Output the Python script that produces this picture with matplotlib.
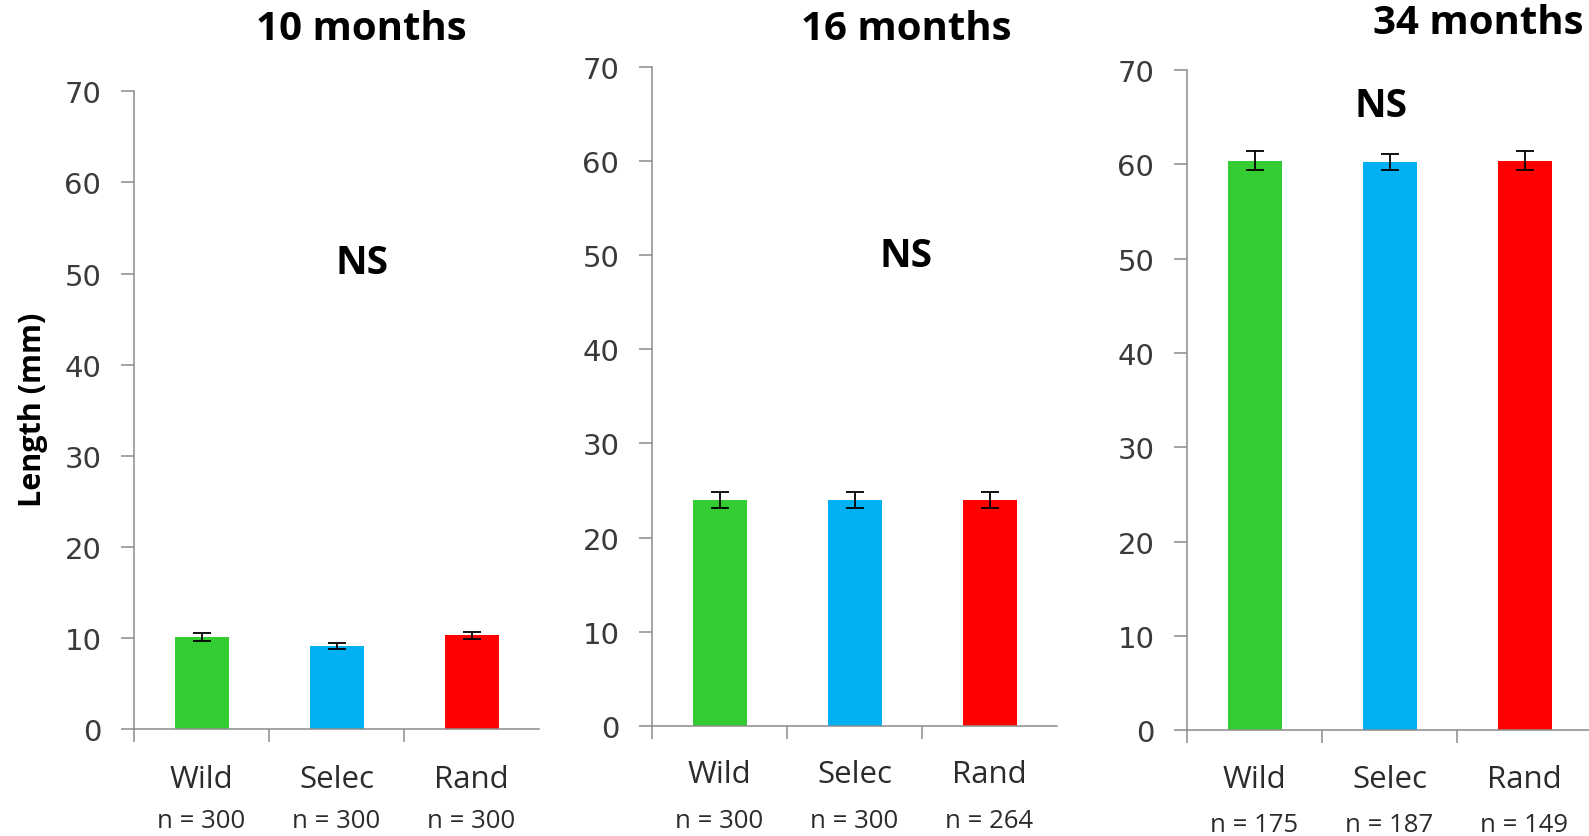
import matplotlib
matplotlib.use("Agg")
import matplotlib.pyplot as plt
from matplotlib import transforms

# Mean shell length (mm) per group at three ages, with error half-widths
groups = ["Wild", "Selec", "Rand"]
colors = ["#33CC33", "#00B0F0", "#FF0000"]

titles = ["10 months", "16 months", "34 months"]

len_10 = [10.1, 9.1, 10.3]
err_10 = [0.4, 0.35, 0.4]
n_10 = [300, 300, 300]

len_16 = [24.0, 24.0, 24.0]
err_16 = [0.9, 0.9, 0.9]
n_16 = [300, 300, 264]

len_34 = [60.4, 60.2, 60.4]
err_34 = [1.0, 0.85, 1.0]
n_34 = [175, 187, 149]

yticks = [0, 10, 20, 30, 40, 50, 60, 70]
sig_label = "NS"

W, H = 1589, 837
fig = plt.figure(figsize=(W / 100, H / 100), dpi=100)
fig.patch.set_facecolor("white")

AXIS_GRAY = "#8c8c8c"
TEXT_DARK = "#2b2b2b"

# panel geometry in pixels: left, y of 0, y of 70, category-label y, n-label y,
# title x/y, NS position in data units
panels = [
    dict(vals=len_10, errs=err_10, ns=n_10, title=titles[0],
         left=134, y0=730, y70=92.4, cat_y=780, n_y=822,
         tx=361, ty=29, sx=1.19, sy=51.2),
    dict(vals=len_16, errs=err_16, ns=n_16, title=titles[1],
         left=652, y0=727, y70=67.8, cat_y=775, n_y=822,
         tx=906, ty=29, sx=1.38, sy=50.0),
    dict(vals=len_34, errs=err_34, ns=n_34, title=titles[2],
         left=1187, y0=731.4, y70=71, cat_y=780, n_y=826,
         tx=1478, ty=24, sx=0.94, sy=66.2),
]

cat_w = 135
for p in panels:
    ax = fig.add_axes([p["left"] / W, (H - p["y0"]) / H,
                       3 * cat_w / W, (p["y0"] - p["y70"]) / H])
    x = list(range(len(groups)))
    ax.bar(x, p["vals"], width=0.4, color=colors, edgecolor="none", zorder=2)
    ax.errorbar(x, p["vals"], yerr=p["errs"], fmt="none", ecolor="black",
                elinewidth=1.3, capsize=6.5, capthick=1.3, zorder=3)
    ax.set_xlim(-0.5, 2.5)
    ax.set_ylim(0, 70)
    ax.set_yticks(yticks)
    ax.set_yticklabels([str(v) for v in yticks], fontsize=21,
                       family="DejaVu Sans", color="#3a3a3a")
    ax.set_xticks([-0.5, 0.5, 1.5])
    ax.set_xticklabels([])
    ax.tick_params(axis="y", direction="out", length=9.5, width=1.1,
                   color=AXIS_GRAY, pad=14)
    ax.tick_params(axis="x", direction="out", length=9, width=1.1,
                   color=AXIS_GRAY)
    for side in ("top", "right"):
        ax.spines[side].set_visible(False)
    for side in ("left", "bottom"):
        ax.spines[side].set_color(AXIS_GRAY)
        ax.spines[side].set_linewidth(1.1)
    ax.set_facecolor("none")

    trans = transforms.blended_transform_factory(ax.transData, fig.transFigure)
    for i, (g, n) in enumerate(zip(groups, p["ns"])):
        fig.text(i, 1 - p["cat_y"] / H, g, transform=trans, ha="center",
                 va="center", fontsize=22.5, family="Open Sans",
                 color=TEXT_DARK)
        fig.text(i, 1 - p["n_y"] / H, f"n = {n}", transform=trans,
                 ha="center", va="center", fontsize=18.5, family="Open Sans",
                 color=TEXT_DARK)

    fig.text(p["tx"] / W, 1 - p["ty"] / H, p["title"], ha="center",
             va="center", fontsize=29, fontweight="bold", family="Open Sans",
             color="black")
    ax.text(p["sx"], p["sy"], sig_label, ha="center", va="center",
            fontsize=28, fontweight="bold", family="Open Sans", color="black",
            clip_on=False)

fig.text(33 / W, 1 - 410 / H, "Length (mm)", rotation=90, ha="center",
         va="center", fontsize=22, fontweight="bold", family="Open Sans",
         color="black")

fig.savefig("out.png", dpi=100, facecolor="white")
